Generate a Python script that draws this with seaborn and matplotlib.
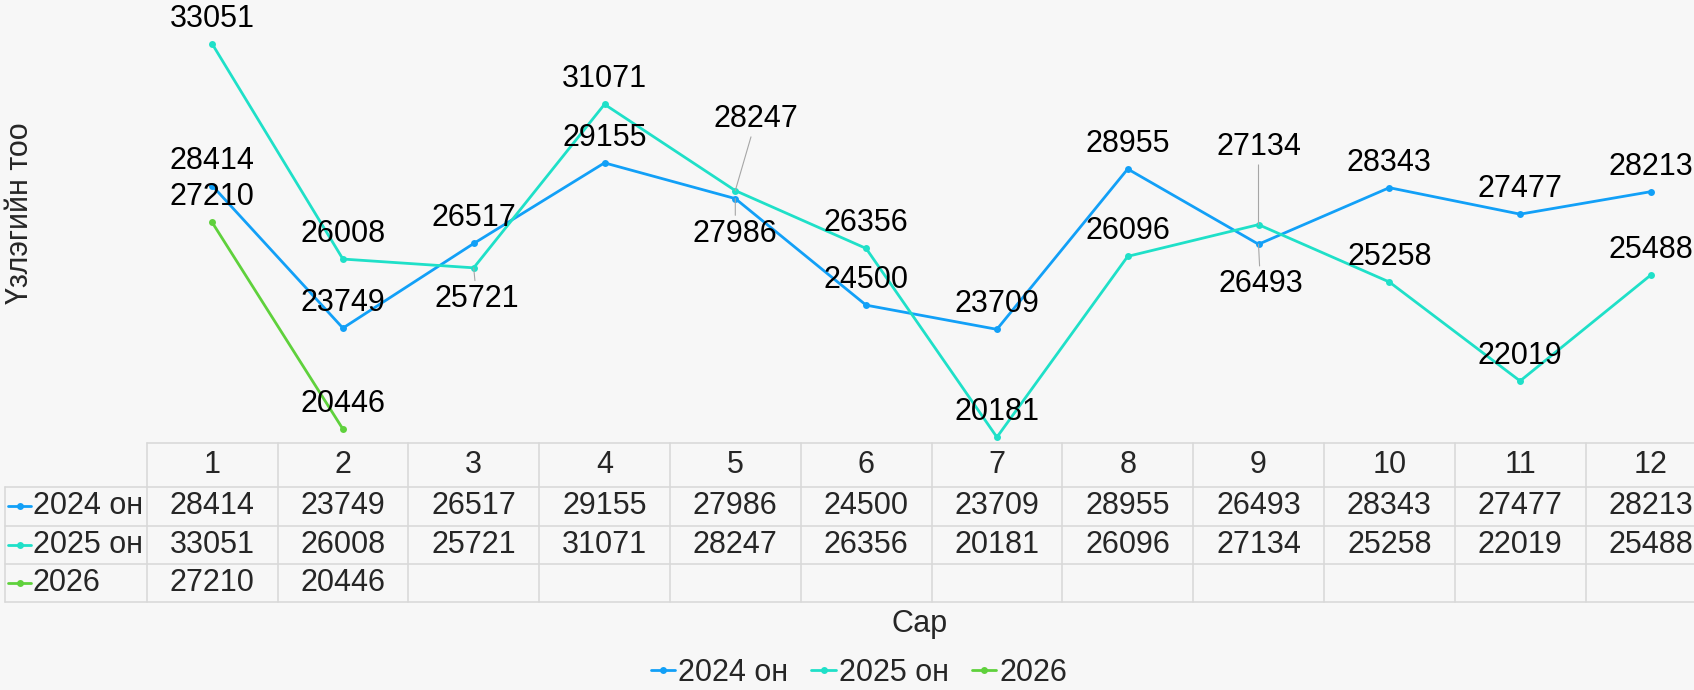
import pandas as pd
import matplotlib.pyplot as plt
import seaborn as sns

months = list(range(1, 13))
series_names = ["2024 он", "2025 он", "2026"]
counts_2024 = [28414, 23749, 26517, 29155, 27986, 24500, 23709, 28955, 26493, 28343, 27477, 28213]
counts_2025 = [33051, 26008, 25721, 31071, 28247, 26356, 20181, 26096, 27134, 25258, 22019, 25488]
counts_2026 = [27210, 20446]
colors = ["#12a0f7", "#1fe0c8", "#5fd13c"]

BG = "#f7f7f7"
GRID = "#d9d9d9"
FS = 22

sns.set_style("white")
plt.rcParams["font.family"] = ["Liberation Sans", "DejaVu Sans"]

series = [counts_2024, counts_2025, counts_2026]
df = pd.DataFrame([
    {"month": m, "count": v, "series": name}
    for name, vals in zip(series_names, series)
    for m, v in zip(months, vals)
])

W, H = 1694, 690
fig = plt.figure(figsize=(W / 100, H / 100), dpi=100, facecolor=BG)

# plot area (pixel layout of the original chart)
col_w = 130.8
x0 = 146.7
y_bot = 442.7
ax = fig.add_axes([x0 / W, 1 - y_bot / H, 12 * col_w / W, 458.5 / H])
ax.set_facecolor("none")

sns.lineplot(data=df, x="month", y="count", hue="series", hue_order=series_names,
             palette=colors, marker="o", markersize=5, markeredgewidth=0,
             linewidth=2.0, errorbar=None, ax=ax)
handles, labels = ax.get_legend_handles_labels()
ax.get_legend().remove()

ax.set_xlim(0.5, 12.5)
ax.set_ylim(20000, 35000)
ax.set_xticks([])
ax.set_yticks([])
ax.set_xlabel("")
ax.set_ylabel("")
sns.despine(ax=ax, left=True, bottom=True)

# data labels; some were moved by hand in the original chart
moved = {
    (0, 5): (0, -35), (0, 9): (2, -40),
    (1, 3): (3, -31), (1, 5): (21, 72), (1, 9): (0, 78),
}
for si, vals in enumerate(series):
    for m, v in zip(months, vals):
        dx, dy = moved.get((si, m), (0, 25))
        kw = {}
        if (si, m) in moved:
            kw["arrowprops"] = dict(arrowstyle="-", color="#a6a6a6", lw=0.8,
                                    shrinkA=0, shrinkB=0)
        ax.annotate(str(v), (m, v), xytext=(dx, dy), textcoords="offset pixels",
                    ha="center", va="center", fontsize=FS, color="black", **kw)

# data table under the plot
tax = fig.add_axes([5 / W, 1 - 602.3 / H, (x0 + 12 * col_w - 5) / W, (602.3 - y_bot) / H])
tax.set_facecolor("none")
tax.axis("off")
left_u = 0.5 - (x0 - 5) / col_w
tax.set_xlim(left_u, 12.5)
rows = [0, 44, 83, 121.6, 159.6]
tax.set_ylim(rows[-1], 0)

tax.plot([0.5, 12.5], [0, 0], color=GRID, lw=1.2, clip_on=False)
for r in rows[1:]:
    tax.plot([left_u, 12.5], [r, r], color=GRID, lw=1.2, clip_on=False)
tax.plot([left_u, left_u], [rows[1], rows[-1]], color=GRID, lw=1.2, clip_on=False)
for k in range(13):
    tax.plot([0.5 + k, 0.5 + k], [0, rows[-1]], color=GRID, lw=1.2, clip_on=False)

for m in months:
    tax.text(m, (rows[0] + rows[1]) / 2, str(m), ha="center", va="center", fontsize=FS)
for si, (name, vals) in enumerate(zip(series_names, series)):
    yc = (rows[si + 1] + rows[si + 2]) / 2
    kx = left_u + 3 / col_w
    tax.plot([kx, kx + 23 / col_w], [yc, yc], color=colors[si], lw=2.0)
    tax.plot([kx + 11.5 / col_w], [yc], "o", color=colors[si], ms=5, mew=0)
    tax.text(kx + 25 / col_w, yc, name, ha="left", va="center", fontsize=FS)
    for m, v in zip(months, vals):
        tax.text(m, yc, str(v), ha="center", va="center", fontsize=FS)

fig.text(20 / W, 1 - 213 / H, "Үзлэгийн тоо", rotation=90, ha="center", va="center", fontsize=FS)
fig.text(920 / W, 1 - 624 / H, "Сар", ha="center", va="center", fontsize=FS)

fig.legend(handles, labels, loc="center", bbox_to_anchor=(859 / W, 1 - 673 / H),
           ncol=3, frameon=False, fontsize=FS, handlelength=0.8, handletextpad=0.1,
           columnspacing=0.75, borderaxespad=0, borderpad=0)

fig.savefig("out.png", dpi=100, facecolor=BG)
